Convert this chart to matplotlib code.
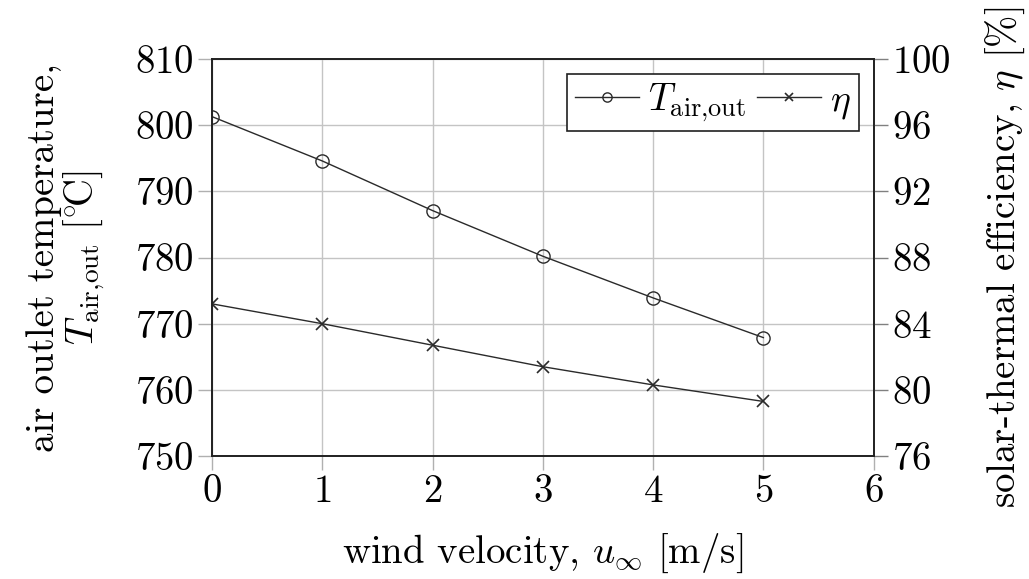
import matplotlib
matplotlib.use("Agg")
import matplotlib.pyplot as plt

# data
wind = [0, 1, 2, 3, 4, 5]
t_air_out = [801.3, 794.6, 787.1, 780.2, 773.9, 767.9]
eta = [85.2, 84.0, 82.7, 81.4, 80.3, 79.3]

left_ticks = [750, 760, 770, 780, 790, 800, 810]
right_ticks = [76, 80, 84, 88, 92, 96, 100]
x_ticks = [0, 1, 2, 3, 4, 5, 6]

plt.rcParams['font.family'] = 'serif'
plt.rcParams['font.serif'] = ['cmr10', 'DejaVu Serif']
plt.rcParams['mathtext.fontset'] = 'cm'
plt.rcParams['axes.formatter.use_mathtext'] = True
plt.rcParams['font.size'] = 28

fig = plt.figure(figsize=(10.29, 5.79), dpi=100)
ax = fig.add_axes([0.206, 0.2124, 0.643, 0.6856])
ax2 = ax.twinx()

line_kw = dict(color='#2a2a2a', linewidth=1.0)
h1, = ax.plot(wind, t_air_out, marker='o', markersize=9.5, markerfacecolor='none',
              markeredgecolor='#2a2a2a', markeredgewidth=1.0, **line_kw)
h2, = ax2.plot(wind, eta, marker='x', markersize=8, markeredgecolor='#2a2a2a',
               markeredgewidth=1.2, **line_kw)

ax.set_xlim(0, 6)
ax.set_ylim(750, 810)
ax2.set_ylim(76, 100)
ax.set_xticks(x_ticks)
ax.set_yticks(left_ticks)
ax2.set_yticks(right_ticks)

ax.grid(True, color='#c4c4c4', linewidth=1.0)
ax.set_axisbelow(True)
ax.tick_params(axis='both', direction='out', length=10, width=1.0, color='#b0b0b0', pad=3)
ax2.tick_params(axis='y', direction='out', length=10, width=1.0, color='#808080', pad=3)

for a in (ax, ax2):
    for s in a.spines.values():
        s.set_color('#202020')
        s.set_linewidth(1.2)

ax.set_xlabel(r'wind velocity, $u_\infty$ [m/s]', labelpad=16)
ax.set_ylabel('air outlet temperature,\n' +
              r'$T_{\mathrm{air{,}out}}\ [^{\circ}\!\mathrm{C}]$',
              labelpad=20, linespacing=1.0)
ax2.set_ylabel(r'solar-thermal efficiency, $\eta$ [%]', labelpad=24)

leg = ax2.legend([h1, h2], [r'$T_{\mathrm{air{,}out}}$', r'$\eta$'], loc='upper right',
                 ncol=2, fancybox=False, edgecolor='#202020', framealpha=1.0,
                 handlelength=1.7, handletextpad=0.25, columnspacing=0.3,
                 borderpad=0.2, borderaxespad=0.4, fontsize=27, markerscale=0.7)
leg.get_frame().set_linewidth(1.2)

fig.savefig('out.png', dpi=100)
